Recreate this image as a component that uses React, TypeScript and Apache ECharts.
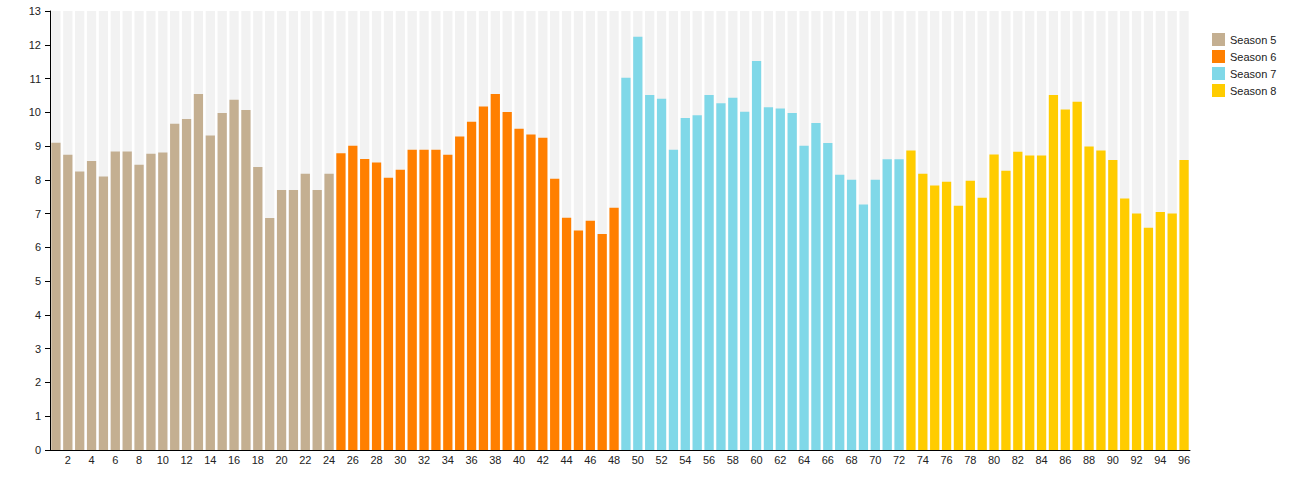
import React, { useEffect, useRef } from "react";
import * as echarts from "echarts";

const season5 = [9.1, 8.74, 8.25, 8.56, 8.1, 8.84, 8.84, 8.45, 8.77, 8.81, 9.66, 9.8, 10.54, 9.31, 9.98, 10.37, 10.07, 8.38, 6.87, 7.7, 7.7, 8.18, 7.7, 8.18];
const season6 = [8.79, 9.01, 8.62, 8.51, 8.06, 8.3, 8.89, 8.89, 8.89, 8.74, 9.28, 9.72, 10.17, 10.54, 10.01, 9.51, 9.34, 9.25, 8.03, 6.88, 6.5, 6.79, 6.4, 7.17];
const season7 = [11.02, 12.24, 10.51, 10.4, 8.89, 9.83, 9.91, 10.51, 10.27, 10.43, 10.02, 11.52, 10.15, 10.11, 9.98, 9.01, 9.68, 9.09, 8.15, 8.0, 7.27, 8.0, 8.61, 8.61];
const season8 = [8.87, 8.18, 7.83, 7.94, 7.23, 7.97, 7.47, 8.75, 8.27, 8.83, 8.72, 8.72, 10.51, 10.08, 10.31, 8.99, 8.87, 8.59, 7.45, 7.0, 6.58, 7.05, 7.0, 8.59];

const seasonNames = ["Season 5", "Season 6", "Season 7", "Season 8"];
const seasonColors = ["#c4af91", "#ff7f00", "#80d8e8", "#ffcc00"];
const seasonValues = [season5, season6, season7, season8];
const yMax = 13;

const episodes: string[] = [];
for (let i = 1; i <= 96; i++) episodes.push(String(i));

export default function App() {
  const ref = useRef<HTMLDivElement>(null);
  useEffect(() => {
    if (!ref.current) return;
    const chart = echarts.init(ref.current, null, { renderer: "svg" });
    const font = "Liberation Sans, Arial, sans-serif";
    const seasonSeries = seasonValues.map((vals, s) => {
      const data: (number | string)[] = episodes.map(() => "-");
      vals.forEach((v, i) => {
        data[s * 24 + i] = v;
      });
      return {
        name: seasonNames[s],
        type: "bar",
        stack: "s",
        barGap: "-100%",
        barCategoryGap: "22%",
        itemStyle: { color: seasonColors[s] },
        data,
      };
    });
    chart.setOption({
      animation: false,
      textStyle: { fontFamily: font },
      grid: { left: 50, right: 100, top: 11, bottom: 50 },
      legend: {
        orient: "vertical",
        left: 1207,
        top: 28,
        itemWidth: 13,
        itemHeight: 13,
        itemGap: 4,
        icon: "rect",
        data: seasonNames,
        textStyle: { fontSize: 11, color: "#222", fontFamily: font },
      },
      xAxis: {
        type: "category",
        data: episodes,
        axisLine: { lineStyle: { color: "#000" } },
        axisTick: { show: false },
        axisLabel: {
          interval: (idx: number) => idx % 2 === 1,
          fontSize: 11,
          color: "#222",
          margin: 4,
          fontFamily: font,
        },
      },
      yAxis: {
        type: "value",
        min: 0,
        max: yMax,
        interval: 1,
        splitLine: { show: false },
        axisLine: { show: true, lineStyle: { color: "#000" } },
        axisTick: { show: true, length: 5, lineStyle: { color: "#000" } },
        axisLabel: { fontSize: 11, color: "#222", margin: 9, fontFamily: font },
      },
      series: [
        {
          name: "bg",
          type: "bar",
          silent: true,
          barGap: "-100%",
          barCategoryGap: "22%",
          itemStyle: { color: "#f2f2f2" },
          data: episodes.map(() => yMax),
          z: 1,
        },
        ...seasonSeries.map((s) => ({ ...s, z: 2 })),
      ],
    });
    return () => chart.dispose();
  }, []);
  return (
    <div
      ref={ref}
      style={{ position: "fixed", left: 0, top: 0, width: 1290, height: 500, background: "#fff" }}
    />
  );
}
